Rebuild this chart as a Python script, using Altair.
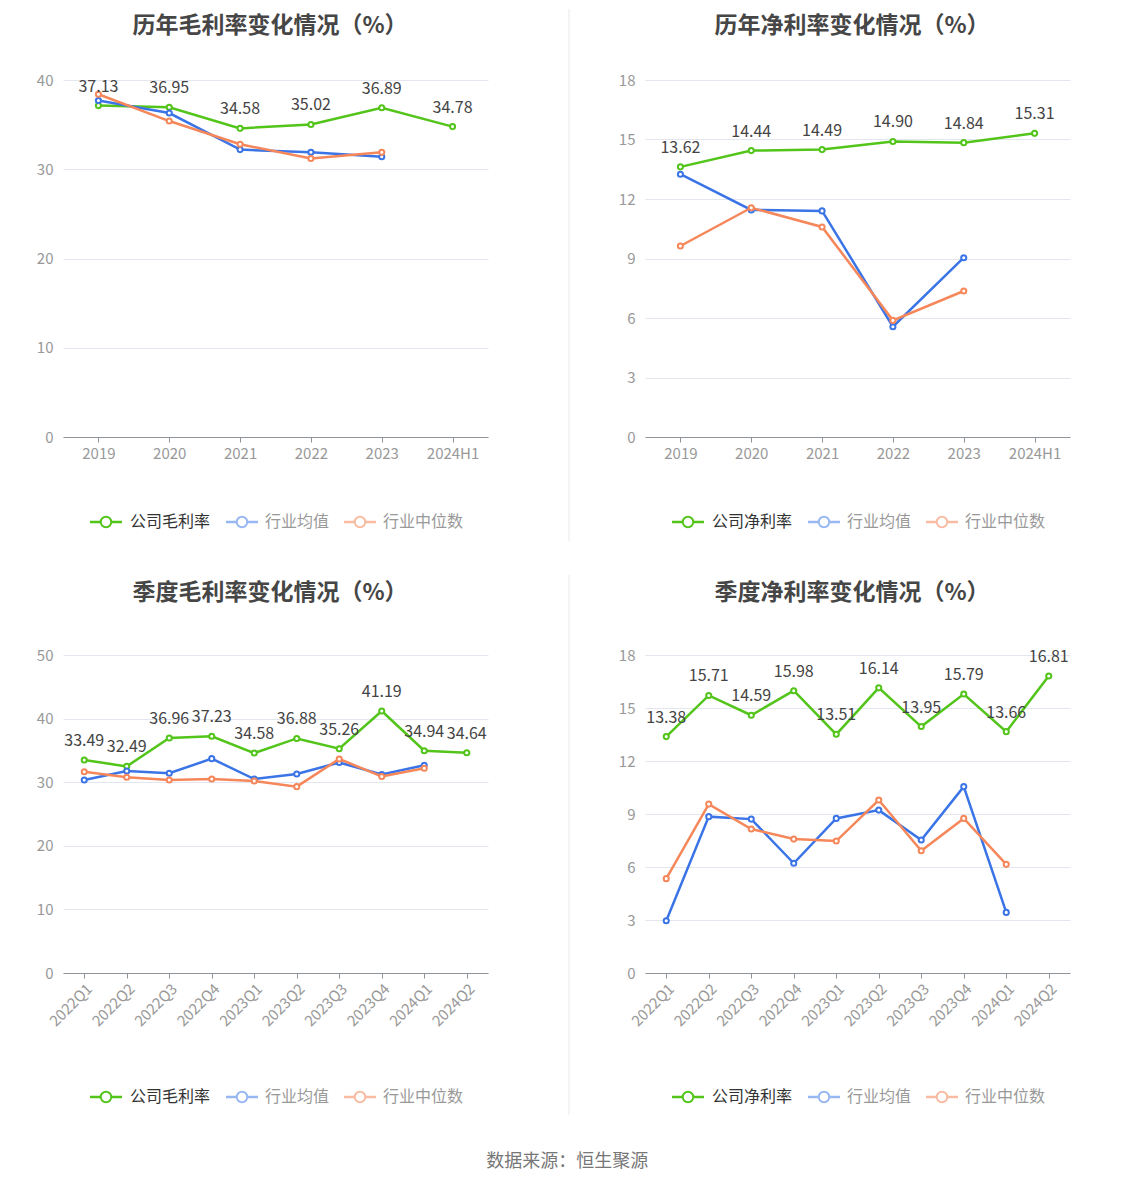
import altair as alt
import pandas as pd

FONT = "Noto Sans CJK SC"
GREEN = "#52c41a"
BLUE = "#3b74e6"
ORANGE = "#f5875a"
BLUE_L = "#98b8f4"
ORANGE_L = "#f9bca3"

# ---------------- data ----------------
years = ["2019", "2020", "2021", "2022", "2023", "2024H1"]
gm_company = [37.13, 36.95, 34.58, 35.02, 36.89, 34.78]
gm_avg = [37.7, 36.3, 32.2, 31.9, 31.4, None]
gm_median = [38.4, 35.4, 32.8, 31.2, 31.9, None]

nm_company = [13.62, 14.44, 14.49, 14.90, 14.84, 15.31]
nm_avg = [13.25, 11.45, 11.40, 5.56, 9.04, None]
nm_median = [9.63, 11.56, 10.59, 5.88, 7.36, None]

quarters = ["2022Q1", "2022Q2", "2022Q3", "2022Q4", "2023Q1",
            "2023Q2", "2023Q3", "2023Q4", "2024Q1", "2024Q2"]
qgm_company = [33.49, 32.49, 36.96, 37.23, 34.58, 36.88, 35.26, 41.19, 34.94, 34.64]
qgm_avg = [30.35, 31.76, 31.40, 33.70, 30.50, 31.30, 33.10, 31.20, 32.65, None]
qgm_median = [31.65, 30.77, 30.35, 30.50, 30.20, 29.30, 33.65, 30.90, 32.20, None]

qnm_company = [13.38, 15.71, 14.59, 15.98, 13.51, 16.14, 13.95, 15.79, 13.66, 16.81]
qnm_avg = [2.96, 8.85, 8.71, 6.21, 8.75, 9.22, 7.53, 10.55, 3.43, None]
qnm_median = [5.34, 9.56, 8.15, 7.58, 7.47, 9.79, 6.92, 8.75, 6.15, None]

titles = ["历年毛利率变化情况（%）", "历年净利率变化情况（%）",
          "季度毛利率变化情况（%）", "季度净利率变化情况（%）"]
avg_name = "行业均值"
median_name = "行业中位数"
source_text = "数据来源：恒生聚源"

W = 425
ONE = pd.DataFrame({"k": [0]})


def panel(title, cats, company, avg, median, company_name, ymax, ystep,
          height, rotate, sep_top, sep_bottom, with_sep, title_y):
    rows = []
    for name, vals in [(company_name, company), (avg_name, avg), (median_name, median)]:
        for c, v in zip(cats, vals):
            rows.append({"cat": c, "series": name, "value": v})
    df = pd.DataFrame(rows)

    xaxis = alt.Axis(
        title=None, grid=False, domainColor="#8f939c", tickColor="#8f939c",
        tickSize=5, labelColor="#999999", labelFontSize=15, labelFont=FONT,
        labelPadding=4 if not rotate else 3,
        labelAngle=315 if rotate else 0,
    )
    yaxis = alt.Axis(
        title=None, values=list(range(0, ymax + 1, ystep)), grid=True,
        gridColor="#e3e6ef", domain=False, ticks=False, labelPadding=10,
        labelColor="#999999", labelFontSize=15, labelFont=FONT,
    )
    xenc = alt.X("cat:N", sort=cats, scale=alt.Scale(type="point", padding=0.5), axis=xaxis)
    yenc = alt.Y("value:Q", scale=alt.Scale(domain=[0, ymax], nice=False), axis=yaxis)

    layers = []
    for name, col in [(company_name, GREEN), (avg_name, BLUE), (median_name, ORANGE)]:
        sub = alt.Chart(df).transform_filter(alt.datum.series == name)
        layers.append(sub.mark_line(color=col, strokeWidth=2.5).encode(x=xenc, y=yenc))
        layers.append(sub.mark_point(shape="circle", fill="white", fillOpacity=1,
                                     stroke=col, strokeWidth=2, size=26, opacity=1)
                      .encode(x=xenc, y=yenc))
    labels = (alt.Chart(df).transform_filter(alt.datum.series == company_name)
              .mark_text(dy=-19, fontSize=16, color="#444444", font=FONT)
              .encode(x=xenc, y=yenc, text=alt.Text("value:Q", format=".2f")))
    layers.append(labels)

    # title as text
    layers.append(alt.Chart(ONE).mark_text(text=title, fontSize=23, fontWeight="bold",
                                           color="#464646", font=FONT, align="center",
                                           baseline="middle")
                  .encode(x=alt.value(207), y=alt.value(title_y)))

    # custom legend
    ly = 442
    items = [(company_name, GREEN, "#333333", 27, 67),
             (avg_name, BLUE_L, "#999999", 163, 202),
             (median_name, ORANGE_L, "#999999", 281, 320)]
    for lab, col, tcol, x0, xt in items:
        layers.append(alt.Chart(ONE).mark_rule(color=col, strokeWidth=2.5)
                      .encode(x=alt.value(x0), x2=alt.value(x0 + 32), y=alt.value(ly)))
        layers.append(alt.Chart(ONE).mark_point(shape="circle", fill="white", fillOpacity=1,
                                                stroke=col, strokeWidth=2, size=110, opacity=1)
                      .encode(x=alt.value(x0 + 16), y=alt.value(ly)))
        layers.append(alt.Chart(ONE).mark_text(text=lab, fontSize=16, color=tcol, font=FONT,
                                               align="left", baseline="middle")
                      .encode(x=alt.value(xt), y=alt.value(ly)))

    if with_sep:
        layers.append(alt.Chart(ONE).mark_rule(color="#e8e8e8", strokeWidth=1)
                      .encode(x=alt.value(-76), y=alt.value(sep_top), y2=alt.value(sep_bottom)))

    return alt.layer(*layers).properties(width=W, height=height)


p1 = panel(titles[0], years, gm_company, gm_avg, gm_median, "公司毛利率", 40, 10, 357, False, -71, 461, False, -54)
p2 = panel(titles[1], years, nm_company, nm_avg, nm_median, "公司净利率", 18, 3, 357, False, -71, 461, True, -54)
p3 = panel(titles[2], quarters, qgm_company, qgm_avg, qgm_median, "公司毛利率", 50, 10, 318, True, -80, 460, False, -62)
p4 = panel(titles[3], quarters, qnm_company, qnm_avg, qnm_median, "公司净利率", 18, 3, 318, True, -80, 460, True, -62)

row1 = alt.hconcat(p1, p2, spacing=80)
row2 = alt.hconcat(p3, p4, spacing=80)

chart = alt.vconcat(row1, row2, spacing=32).properties(
    padding={"left": 28, "top": 0, "right": 5, "bottom": 5},
    title=alt.TitleParams(source_text, orient="bottom", anchor="middle", fontSize=18,
                          color="#777777", fontWeight="normal", font=FONT, offset=37, dx=14),
).configure(font=FONT).configure_view(strokeWidth=0, stroke="transparent")

chart.save("out.html", embed_options={"renderer": "svg", "actions": False})
